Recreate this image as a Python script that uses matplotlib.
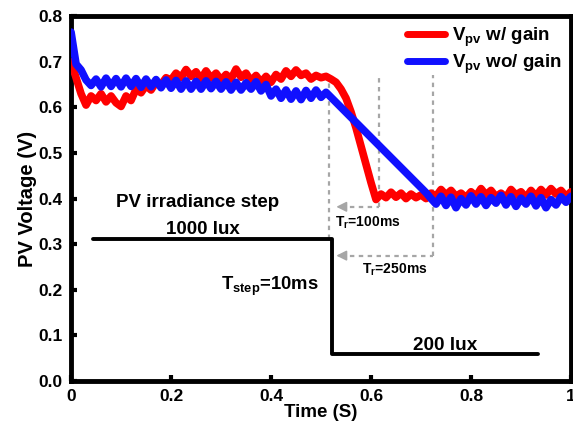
import numpy as np
import matplotlib
matplotlib.use("Agg")
import matplotlib.pyplot as plt

plt.rcParams["font.family"] = ["Liberation Sans", "DejaVu Sans"]
plt.rcParams["font.weight"] = "bold"
plt.rcParams["mathtext.fontset"] = "custom"
plt.rcParams["mathtext.rm"] = "Liberation Sans:bold"
plt.rcParams["mathtext.bf"] = "Liberation Sans:bold"
plt.rcParams["mathtext.it"] = "Liberation Sans:bold"
plt.rcParams["mathtext.default"] = "bf"

# -----------------------------
# Data
# -----------------------------

time_s = np.round(np.arange(0, 1.0001, 0.01), 2)

v_wo_gain = [
    0.765, 0.695, 0.682, 0.660, 0.648, 0.662, 0.645, 0.664, 0.646, 0.663,
    0.645, 0.664, 0.646, 0.663, 0.644, 0.662, 0.645, 0.661, 0.643, 0.660,
    0.642, 0.659, 0.640, 0.658, 0.640, 0.657, 0.640, 0.658, 0.641, 0.657,
    0.640, 0.656, 0.638, 0.655, 0.638, 0.654, 0.640, 0.656, 0.636, 0.650,
    0.625, 0.640, 0.620, 0.638, 0.618, 0.636, 0.617, 0.637, 0.620, 0.638,
    0.622, 0.633, 0.622, 0.611, 0.600, 0.589, 0.578, 0.567, 0.556, 0.545,
    0.534, 0.523, 0.512, 0.501, 0.490, 0.479, 0.468, 0.457, 0.446, 0.435,
    0.424, 0.413, 0.400, 0.388, 0.405, 0.385, 0.403, 0.380, 0.400, 0.386,
    0.406, 0.388, 0.404, 0.385, 0.402, 0.390, 0.407, 0.386, 0.404, 0.383,
    0.401, 0.388, 0.405, 0.384, 0.402, 0.380, 0.398, 0.386, 0.404, 0.392,
    0.405,
]

v_w_gain = [
    0.700, 0.665, 0.630, 0.605, 0.625, 0.615, 0.630, 0.612, 0.625, 0.610,
    0.602, 0.625, 0.615, 0.640, 0.632, 0.648, 0.638, 0.655, 0.650, 0.665,
    0.660, 0.675, 0.665, 0.683, 0.668, 0.678, 0.662, 0.680, 0.664, 0.675,
    0.660, 0.672, 0.662, 0.684, 0.666, 0.675, 0.658, 0.670, 0.655, 0.668,
    0.655, 0.672, 0.662, 0.680, 0.668, 0.682, 0.670, 0.675, 0.662, 0.670,
    0.665, 0.668, 0.662, 0.655, 0.640, 0.620, 0.590, 0.555, 0.515, 0.475,
    0.435, 0.398, 0.410, 0.402, 0.414, 0.403, 0.412, 0.400, 0.410, 0.402,
    0.408, 0.400, 0.412, 0.405, 0.420, 0.408, 0.418, 0.405, 0.412, 0.402,
    0.415, 0.405, 0.422, 0.408, 0.418, 0.404, 0.412, 0.402, 0.420, 0.408,
    0.415, 0.402, 0.418, 0.405, 0.420, 0.408, 0.422, 0.410, 0.418, 0.405,
    0.415,
]

# irradiance step trace (1000 lux -> 200 lux)
step_t = [0.044, 0.522, 0.522, 0.934]
step_v = [0.312, 0.312, 0.059, 0.059]

# settling markers
t_start = 0.515
t_settle_gain = 0.616
t_settle_nogain = 0.724
marker_top = 0.67
arrow_y_gain = 0.382
arrow_y_nogain = 0.275
arrow_tip = 0.525

# -----------------------------
# Plot
# -----------------------------

fig = plt.figure(figsize=(5.73, 4.36), dpi=100)
ax = fig.add_axes([0.124, 0.126, 0.8725, 0.837])

ax.plot(time_s, v_w_gain, color="#ff0000", lw=5.5, label=r"V$_{pv}$ w/ gain",
        solid_joinstyle="round", solid_capstyle="round", zorder=3)
ax.plot(time_s, v_wo_gain, color="#1010ff", lw=5.5, label=r"V$_{pv}$ wo/ gain",
        solid_joinstyle="round", solid_capstyle="round", zorder=4)

ax.plot(step_t, step_v, color="black", lw=2.8, solid_capstyle="round", zorder=2)

gray = "#a6a6a6"
dash = dict(color=gray, lw=1.6, ls=(0, (2, 2)), zorder=1)
ax.plot([t_start, t_start], [0.312, marker_top], **dash)
ax.plot([t_settle_gain, t_settle_gain], [arrow_y_gain, marker_top], **dash)
ax.plot([t_settle_nogain, t_settle_nogain], [arrow_y_nogain, marker_top], **dash)
ax.plot([arrow_tip + 0.015, t_settle_gain], [arrow_y_gain, arrow_y_gain], **dash)
ax.plot([arrow_tip + 0.015, t_settle_nogain], [arrow_y_nogain, arrow_y_nogain], **dash)
for y in (arrow_y_gain, arrow_y_nogain):
    ax.annotate("", xy=(arrow_tip, y), xytext=(arrow_tip + 0.022, y),
                arrowprops=dict(arrowstyle="-|>,head_length=0.6,head_width=0.3",
                                color=gray, lw=1.2))

ax.text(0.253, 0.391, "PV irradiance step", fontsize=13.5, ha="center", va="center")
ax.text(0.264, 0.332, "1000 lux", fontsize=13.5, ha="center", va="center")
ax.text(0.398, 0.207, r"T$_{step}$=10ms", fontsize=13.3, ha="center", va="center")
ax.text(0.748, 0.079, "200 lux", fontsize=13.7, ha="center", va="center")
ax.text(0.594, 0.347, r"T$_{r}$=100ms", fontsize=10, ha="center", va="center")
ax.text(0.648, 0.244, r"T$_{r}$=250ms", fontsize=10, ha="center", va="center")

ax.set_xlim(0, 1)
ax.set_ylim(0, 0.8)
ax.set_xticks([0, 0.2, 0.4, 0.6, 0.8, 1.0])
ax.set_xticklabels(["0", "0.2", "0.4", "0.6", "0.8", "1"])
ax.set_yticks(np.round(np.arange(0, 0.81, 0.1), 1))
ax.set_yticklabels([f"{v:.1f}" for v in np.arange(0, 0.81, 0.1)])
ax.tick_params(direction="in", length=4, width=3, labelsize=12.5, pad=6)

for s in ax.spines.values():
    s.set_linewidth(3.5)

ax.set_xlabel("Time (S)", fontsize=13.5, fontweight="bold", labelpad=0)
ax.set_ylabel("PV Voltage (V)", fontsize=14.5, fontweight="bold", labelpad=1)

leg = ax.legend(loc="upper right", frameon=False, fontsize=13.5, handlelength=2.0,
                handletextpad=0.4, borderaxespad=0.1, labelspacing=0.2)
for h in leg.get_lines():
    h.set_linewidth(5)

fig.savefig("out.png", dpi=100)
